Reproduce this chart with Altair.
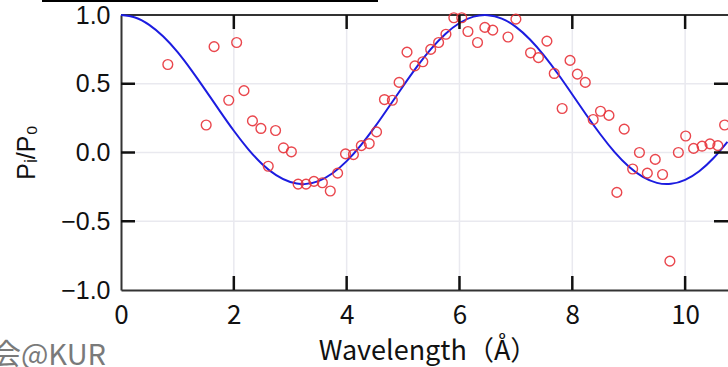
import altair as alt
import pandas as pd

# Measured data (red circles)
wl = [0.83, 1.51, 1.65, 1.91, 2.05, 2.18, 2.33, 2.48, 2.61, 2.74, 2.88, 3.02, 3.14, 3.28, 3.42,
      3.57, 3.71, 3.84, 3.98, 4.12, 4.26, 4.40, 4.53, 4.67, 4.81, 4.93, 5.07, 5.21, 5.35, 5.49,
      5.63, 5.76, 5.90, 6.04, 6.15, 6.32, 6.45, 6.59, 6.86, 7.00, 7.26, 7.40, 7.55, 7.68, 7.82,
      7.96, 8.09, 8.23, 8.37, 8.50, 8.65, 8.79, 8.92, 9.07, 9.19, 9.33, 9.47, 9.60, 9.73, 9.88,
      10.01, 10.15, 10.30, 10.44, 10.58, 10.70]
ratio = [0.64, 0.20, 0.77, 0.38, 0.80, 0.45, 0.23, 0.175, -0.10, 0.16, 0.034, 0.005, -0.23, -0.23, -0.21,
         -0.22, -0.28, -0.15, -0.01, -0.015, 0.05, 0.065, 0.15, 0.385, 0.38, 0.51, 0.73, 0.63, 0.66, 0.75,
         0.80, 0.86, 0.98, 0.98, 0.88, 0.80, 0.91, 0.89, 0.84, 0.97, 0.725, 0.69, 0.81, 0.575, 0.32,
         0.67, 0.57, 0.51, 0.24, 0.30, 0.27, -0.29, 0.17, -0.12, 0.0, -0.15, -0.05, -0.16, -0.79, 0.0,
         0.12, 0.03, 0.046, 0.063, 0.05, 0.20]

# Fitted curve (blue line)
fit_x = [0, 0.25, 0.5, 0.75, 1.0, 1.25, 1.5, 1.75, 2.0, 2.25, 2.5, 2.75, 3.0, 3.25, 3.5, 3.75,
         4.0, 4.25, 4.5, 4.75, 5.0, 5.25, 5.5, 5.75, 6.0, 6.25, 6.5, 6.75, 7.0, 7.25, 7.5, 7.75,
         8.0, 8.25, 8.5, 8.75, 9.0, 9.25, 9.5, 9.75, 10.0, 10.25, 10.5, 10.75]
fit_y = [1.000, 0.982, 0.928, 0.843, 0.731, 0.597, 0.452, 0.303, 0.158, 0.027, -0.083, -0.165,
         -0.215, -0.230, -0.208, -0.151, -0.063, 0.052, 0.186, 0.333, 0.482, 0.626, 0.755, 0.862,
         0.942, 0.988, 0.999, 0.974, 0.914, 0.822, 0.705, 0.569, 0.422, 0.273, 0.131, 0.003,
         -0.102, -0.178, -0.221, -0.228, -0.199, -0.136, -0.042, 0.078]

x_ticks = [2, 4, 6, 8, 10]
y_ticks = [-0.5, 0.0, 0.5]
x_labels = [0, 2, 4, 6, 8, 10]
y_labels = [-1.0, -0.5, 0.0, 0.5, 1.0]

X_MAX = 10.76
W, H = 607, 275
TICK = 14
TX = TICK * X_MAX / W      # tick length in x data units
TY = TICK * 2.0 / H        # tick length in y data units

pts = pd.DataFrame({"x": wl, "y": ratio})
fit = pd.DataFrame({"x": fit_x, "y": fit_y})

# inward tick segments (bottom, top, left, right) built from the tick arrays
seg_rows = []
for v in x_ticks:
    seg_rows.append({"x": v, "x2": v, "y": -1.0, "y2": -1.0 + TY})
    seg_rows.append({"x": v, "x2": v, "y": 1.0, "y2": 1.0 - TY})
for v in y_ticks:
    seg_rows.append({"x": 0.0, "x2": TX, "y": v, "y2": v})
    seg_rows.append({"x": X_MAX - TX, "x2": X_MAX, "y": v, "y2": v})
segs = pd.DataFrame(seg_rows)

grid_rows = []
for v in x_ticks:
    grid_rows.append({"x": v, "x2": v, "y": -1.0 + TY, "y2": 1.0 - TY})
for v in y_ticks:
    grid_rows.append({"x": TX, "x2": X_MAX - TX, "y": v, "y2": v})
grid = pd.DataFrame(grid_rows)

frame = pd.DataFrame({"x": [0.0], "x2": [X_MAX], "y": [1.0], "y2": [1.0]})

xs = alt.Scale(domain=[0, X_MAX], nice=False, zero=False)
ys = alt.Scale(domain=[-1, 1], nice=False, zero=False)

xax = alt.Axis(values=x_labels, format="d", title="Wavelength（Å）", grid=False, ticks=False,
               domainColor="#333333", domainWidth=2,
               labelFont="Noto Sans CJK JP", labelFontSize=26, labelColor="#111111",
               labelPadding=12, labelFlush=False,
               titleFont="Noto Sans CJK JP", titleFontSize=27, titleFontWeight="normal",
               titleColor="#111111", titleX=W / 2 + 3, titleY=61, titleBaseline="middle",
               titleAlign="center")
yax = alt.Axis(values=y_labels, format=".1f", title="Pᵢ/P₀", grid=False, ticks=False,
               domainColor="#333333", domainWidth=2,
               labelFont="Liberation Sans", labelFontSize=25, labelColor="#111111",
               labelPadding=11, labelFlush=False,
               titleFont="Liberation Sans", titleFontSize=25, titleFontWeight="normal",
               titleColor="#111111", titleAngle=270, titleX=-95, titleY=137,
               titleBaseline="middle", titleAlign="center")

X = alt.X("x:Q", scale=xs, axis=xax)
Y = alt.Y("y:Q", scale=ys, axis=yax)

def segment_layer(df, color, width):
    return alt.Chart(df).mark_rule(color=color, strokeWidth=width, opacity=1).encode(
        x=X, x2="x2:Q", y=Y, y2="y2:Q")

grid_layer = segment_layer(grid, "#e9e9ef", 1.5)
frame_layer = segment_layer(frame, "#333333", 2)
tick_layer = segment_layer(segs, "#111111", 2.5)

line = alt.Chart(fit).mark_line(color="#1c1ce0", strokeWidth=2, interpolate="natural").encode(x=X, y=Y)
points = alt.Chart(pts).mark_point(shape="circle", filled=False, color="#e8333a",
                                   strokeWidth=1.4, size=95, opacity=0.9).encode(x=X, y=Y)

wm = alt.Chart(pd.DataFrame({"t": ["会@KUR"]})).mark_text(
    align="right", baseline="alphabetic", font="Noto Sans CJK JP", fontSize=29,
    color="#7a7a7a").encode(text="t:N", x=alt.value(-15), y=alt.value(350))
top_line = alt.Chart(pd.DataFrame({"t": ["a"]})).mark_rule(color="#000000", strokeWidth=2).encode(
    x=alt.value(-79), x2=alt.value(257), y=alt.value(-14))

chart = alt.layer(grid_layer, frame_layer, line, points, wm, top_line, tick_layer).properties(
    width=W, height=H,
    autosize=alt.AutoSizeParams(type="none"),
    padding={"left": 121, "top": 15, "right": 0, "bottom": 77},
    background="white",
).configure_view(strokeWidth=0)

chart.save("out.html", embed_options={"renderer": "svg", "actions": False})
